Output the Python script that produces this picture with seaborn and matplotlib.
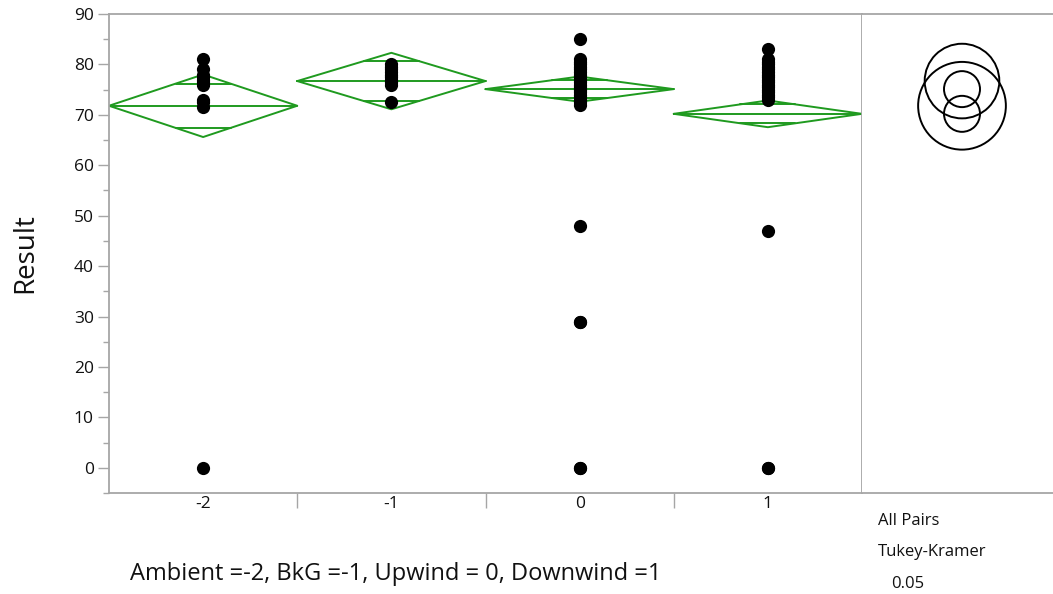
import numpy as np
import pandas as pd
import matplotlib
matplotlib.use("Agg")
import matplotlib.pyplot as plt
from matplotlib.patches import Circle
from matplotlib.ticker import MultipleLocator, FixedLocator
import seaborn as sns

# ---------------- data ----------------
groups = ["-2", "-1", "0", "1"]
vals_m2 = [0, 71.5, 72.5, 73, 76, 76.5, 77, 77.5, 78, 79, 81]
vals_m1 = [72.5, 76, 76.5, 77, 77.5, 78, 78.5, 79, 79.5, 80]
vals_0 = [0, 0, 29, 29, 48, 72, 72.5, 73, 73.5, 74, 74.5, 75, 75.5, 76, 76.5,
          77, 77.5, 78, 78.5, 79, 79.5, 80, 80.5, 81, 85]
vals_1 = [0, 0, 47, 73, 73.5, 74, 74.5, 75, 75.5, 76, 76.5, 77, 77.5, 78,
          78.5, 79, 79.5, 80, 80.5, 81, 83]
means = [71.8, 76.7, 75.1, 70.2]          # diamond centre (group mean)
ci_half = [6.2, 5.6, 2.5, 2.65]           # diamond half height (95% CI)
circle_radius = [8.7, 7.4, 3.57, 3.57]    # Tukey-Kramer comparison circles
yticks = [0, 10, 20, 30, 40, 50, 60, 70, 80, 90]

df = pd.DataFrame({
    "group": sum([[g] * len(v) for g, v in zip(groups, [vals_m2, vals_m1, vals_0, vals_1])], []),
    "Result": vals_m2 + vals_m1 + vals_0 + vals_1,
})

# ---------------- style ----------------
sns.set_theme(style="white")
plt.rcParams["font.family"] = ["Open Sans", "DejaVu Sans"]
GREEN = "#1f9a1f"
SPINE = "#a6a6a6"
TXT = "#111111"

W, H = 1053, 594
fig = plt.figure(figsize=(W / 100, H / 100), dpi=100)
L, R, B, T = 109, 862, 493, 14
ax = fig.add_axes([L / W, 1 - B / H, (R - L) / W, (B - T) / H])
ax2 = fig.add_axes([R / W, 1 - B / H, (W - R) / W, (B - T) / H], sharey=ax)

# diamonds
for i, (m, h) in enumerate(zip(means, ci_half)):
    xs = [i - 0.5, i, i + 0.5, i, i - 0.5]
    ys = [m, m + h, m, m - h, m]
    ax.plot(xs, ys, color=GREEN, lw=1.4, zorder=2)
    ax.plot([i - 0.5, i + 0.5], [m, m], color=GREEN, lw=1.4, zorder=2)
    d = h / np.sqrt(2)
    frac = 1 - d / h
    for yy in (m + d, m - d):
        ax.plot([i - 0.5 * frac, i + 0.5 * frac], [yy, yy], color=GREEN, lw=1.4, zorder=2)

# points
sns.stripplot(data=df, x="group", y="Result", order=groups, jitter=False,
              color="black", size=9.5, linewidth=0, ax=ax, zorder=3)

ax.set_xlim(-0.5, 3.5)
ax.set_ylim(-5, 90)
ax.set_xlabel("")
ax.set_ylabel("Result", fontsize=20, labelpad=25, color=TXT)
ax.set_yticks(yticks)
ax.yaxis.set_minor_locator(MultipleLocator(5))
ax.set_xticks(range(len(groups)))
ax.set_xticklabels(groups)
ax.xaxis.set_minor_locator(FixedLocator([0.5, 1.5, 2.5]))
ax.tick_params(axis="x", which="major", length=0, pad=2, labelsize=12.5, labelcolor=TXT)
ax.tick_params(axis="x", which="minor", length=11, width=1, color=SPINE, direction="out", bottom=True)
ax.tick_params(axis="y", which="major", length=8, width=1, color=SPINE, direction="out",
               left=True, labelsize=12.5, labelcolor=TXT, pad=3)
ax.tick_params(axis="y", which="minor", length=4, width=1, color=SPINE, direction="out", left=True)
for s in ax.spines.values():
    s.set_color(SPINE)
    s.set_linewidth(1.3)

# comparison circles panel
px_per_unit = (B - T) / 95.0
xr = (W - R) / px_per_unit
ax2.set_xlim(0, xr)
cx = (962 - R) / px_per_unit
for m, r in zip(means, circle_radius):
    ax2.add_patch(Circle((cx, m), r, fill=False, edgecolor="black", lw=1.4))
ax2.tick_params(left=False, labelleft=False, bottom=False, labelbottom=False)
for k, s in ax2.spines.items():
    s.set_color(SPINE)
    s.set_linewidth(1.3)
ax2.spines["right"].set_visible(False)
ax2.spines["left"].set_visible(False)

# texts
fig.text(130 / W, 1 - 574 / H, "Ambient =-2, BkG =-1, Upwind = 0, Downwind =1",
         fontsize=17, ha="left", va="center", color=TXT)
fig.text(878 / W, 1 - 521 / H, "All Pairs", fontsize=12, ha="left", va="center", color=TXT)
fig.text(878 / W, 1 - 552 / H, "Tukey-Kramer", fontsize=12, ha="left", va="center", color=TXT)
fig.text(891 / W, 1 - 584 / H, "0.05", fontsize=12, ha="left", va="center", color=TXT)

fig.savefig("out.png", dpi=100)
